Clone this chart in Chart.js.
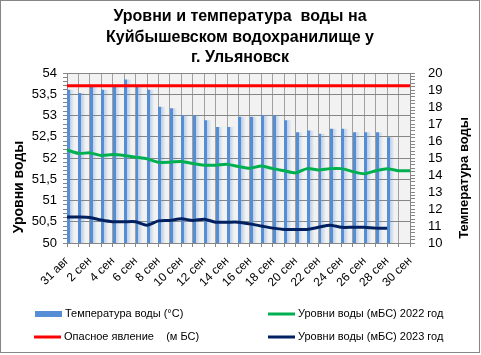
<!DOCTYPE html>
<html><head><meta charset="utf-8">
<script src="https://cdn.jsdelivr.net/npm/chart.js@4.4.0/dist/chart.umd.min.js"></script>
<style>html,body{margin:0;padding:0;background:#fff;} #wrap{width:481px;height:355px;position:relative;}</style>
</head><body><div id="wrap"><canvas id="c" width="481" height="355"></canvas></div>
<script>
const titleLines = ['Уровни и температура  воды на', 'Куйбышевском водохранилище у', 'г. Ульяновск'];
const leftAxisTitle = 'Уровни воды';
const rightAxisTitle = 'Температура воды';
const categories = ['31 авг','1 сен','2 сен','3 сен','4 сен','5 сен','6 сен','7 сен','8 сен','9 сен','10 сен',
  '11 сен','12 сен','13 сен','14 сен','15 сен','16 сен','17 сен','18 сен','19 сен','20 сен',
  '21 сен','22 сен','23 сен','24 сен','25 сен','26 сен','27 сен','28 сен','29 сен','30 сен'];
const waterTemp = [19.0,18.8,19.2,19.0,19.2,19.6,19.2,19.0,18.0,17.9,17.5,17.5,17.2,16.8,16.8,17.4,17.4,17.5,17.5,17.2,
  16.5,16.6,16.4,16.7,16.7,16.5,16.5,16.5,16.2,null,null];
const level2022 = [52.19,52.11,52.12,52.06,52.08,52.06,52.02,51.98,51.90,51.90,51.92,51.87,51.83,51.83,51.85,51.80,
  51.76,51.81,51.75,51.70,51.65,51.75,51.72,51.75,51.75,51.68,51.63,51.70,51.75,51.70,51.70];
const level2023 = [50.61,50.61,50.60,50.54,50.50,50.50,50.50,50.42,50.52,50.53,50.57,50.53,50.56,50.49,50.49,50.49,
  50.45,50.40,50.35,50.32,50.32,50.32,50.37,50.42,50.37,50.37,50.37,50.35,50.35,null,null];
const dangerLevel = [53.7,53.7,53.7,53.7,53.7,53.7,53.7,53.7,53.7,53.7,53.7,53.7,53.7,53.7,53.7,53.7,
  53.7,53.7,53.7,53.7,53.7,53.7,53.7,53.7,53.7,53.7,53.7,53.7,53.7,53.7,53.7];
const seriesLabels = ['Температура воды (°C)', 'Уровни воды (мБС) 2022 год', 'Опасное явление    (м БС)', 'Уровни воды (мБС) 2023 год'];

const FONT = "'Liberation Sans', Arial, sans-serif";
Chart.defaults.font.family = FONT;
Chart.defaults.color = '#000';
const BLUE = '#558ED5', GREEN = '#00B050', RED = '#FF0000', NAVY = '#002060', GRID = '#868686';

function barFill(ctx) {
  const chart = ctx.chart;
  if (!chart.chartArea || !chart.scales.x) return BLUE;
  const x = chart.scales.x.getPixelForValue(ctx.dataIndex);
  const g = chart.ctx.createLinearGradient(x - 8, 0, x + 8, 0);
  g.addColorStop(0, 'rgba(85,142,213,0)');
  g.addColorStop(0.5, 'rgba(85,142,213,0)');
  g.addColorStop(0.5, BLUE);
  g.addColorStop(0.68, BLUE);
  g.addColorStop(0.68, 'rgba(85,142,213,0.35)');
  g.addColorStop(0.95, 'rgba(85,142,213,0)');
  g.addColorStop(1, 'rgba(85,142,213,0)');
  return g;
}

const decor = {
  id: 'decor',
  beforeDraw(chart) {
    const {ctx, chartArea: a} = chart;
    ctx.save();
    ctx.fillStyle = '#fff';
    ctx.fillRect(0, 0, chart.width, chart.height);
    ctx.fillStyle = '#F2F2F2';
    ctx.fillRect(a.left, a.top, a.right - a.left, a.bottom - a.top);
    ctx.restore();
  },
  afterDraw(chart) {
    const {ctx} = chart;
    ctx.save();
    ctx.fillStyle = '#000';
    ctx.textAlign = 'center';
    ctx.textBaseline = 'middle';
    ctx.font = 'bold 16px ' + FONT;
    const ty = [17, 37.5, 58];
    titleLines.forEach((t, i) => ctx.fillText(t, 240, ty[i]));
    ctx.font = 'bold 14px ' + FONT;
    ctx.save(); ctx.translate(19, 187); ctx.rotate(-Math.PI / 2); ctx.fillText(leftAxisTitle, 0, 0); ctx.restore();
    ctx.font = 'bold 13px ' + FONT;
    ctx.save(); ctx.translate(464, 178); ctx.rotate(-Math.PI / 2); ctx.fillText(rightAxisTitle, 0, 0); ctx.restore();
    const ds = chart.data.datasets;
    ctx.font = '11px ' + FONT;
    ctx.textAlign = 'left';
    const items = [
      {d: ds[0], x: 35, y: 314, bar: true},
      {d: ds[1], x: 268, y: 314},
      {d: ds[2], x: 34, y: 337},
      {d: ds[3], x: 268, y: 337}
    ];
    items.forEach(it => {
      if (it.bar) {
        ctx.fillStyle = BLUE;
        ctx.fillRect(it.x, it.y - 3, 27, 6);
      } else {
        ctx.strokeStyle = it.d.borderColor;
        ctx.lineWidth = 3;
        ctx.beginPath(); ctx.moveTo(it.x, it.y); ctx.lineTo(it.x + 27, it.y); ctx.stroke();
      }
      ctx.fillStyle = '#000';
      ctx.fillText(it.d.label, it.x + 30, it.y);
    });
    ctx.strokeStyle = '#868686';
    ctx.lineWidth = 1;
    ctx.strokeRect(0.5, 0.5, 479, 352);
    ctx.restore();
  }
};

const isMult = (v, s) => Math.abs(v / s - Math.round(v / s)) < 1e-6;

new Chart(document.getElementById('c'), {
  data: {
    labels: categories,
    datasets: [
      {type: 'bar', label: seriesLabels[0], data: waterTemp, yAxisID: 'y1', backgroundColor: barFill,
       barThickness: 16, order: 5},
      {type: 'line', label: seriesLabels[1], data: level2022, yAxisID: 'y', borderColor: GREEN, borderWidth: 3,
       pointRadius: 0, tension: 0.25, order: 2},
      {type: 'line', label: seriesLabels[2], data: dangerLevel, yAxisID: 'y', borderColor: RED, borderWidth: 3,
       pointRadius: 0, order: 1},
      {type: 'line', label: seriesLabels[3], data: level2023, yAxisID: 'y', borderColor: NAVY, borderWidth: 3,
       pointRadius: 0, tension: 0.25, order: 3}
    ]
  },
  options: {
    responsive: false,
    animation: false,
    layout: {padding: {top: 73, left: 0, right: 0, bottom: 0}},
    plugins: {legend: {display: false}, tooltip: {enabled: false}, title: {display: false}},
    scales: {
      x: {
        offset: false,
        grid: {offset: false, color: '#A0A0A0', tickColor: GRID, tickLength: 4},
        border: {color: GRID},
        ticks: {autoSkip: false, maxRotation: 45, minRotation: 45, padding: 7, font: {size: 12},
          callback: (v, i) => i % 2 === 0 ? categories[i] : ''},
        afterFit: s => { s.height = 112; }
      },
      y: {
        position: 'left', min: 50, max: 54,
        grid: {color: c => isMult(c.tick.value, 0.5) ? GRID : 'rgba(0,0,0,0)', tickColor: GRID, tickLength: 4},
        border: {color: GRID},
        ticks: {stepSize: 0.1, autoSkip: false, padding: 6, font: {size: 13},
          callback: v => isMult(v, 0.5) ? String(Math.round(v * 2) / 2).replace('.', ',') : ''},
        afterFit: s => { s.width = 67; }
      },
      y1: {
        position: 'right', min: 10, max: 20,
        grid: {drawOnChartArea: false, tickColor: GRID, tickLength: 5},
        border: {color: GRID},
        ticks: {stepSize: 0.2, autoSkip: false, padding: 13, font: {size: 13},
          callback: v => isMult(v, 1) ? String(Math.round(v)) : ''},
        afterFit: s => { s.width = 71; }
      }
    }
  },
  plugins: [decor]
});
</script>
</body></html>
